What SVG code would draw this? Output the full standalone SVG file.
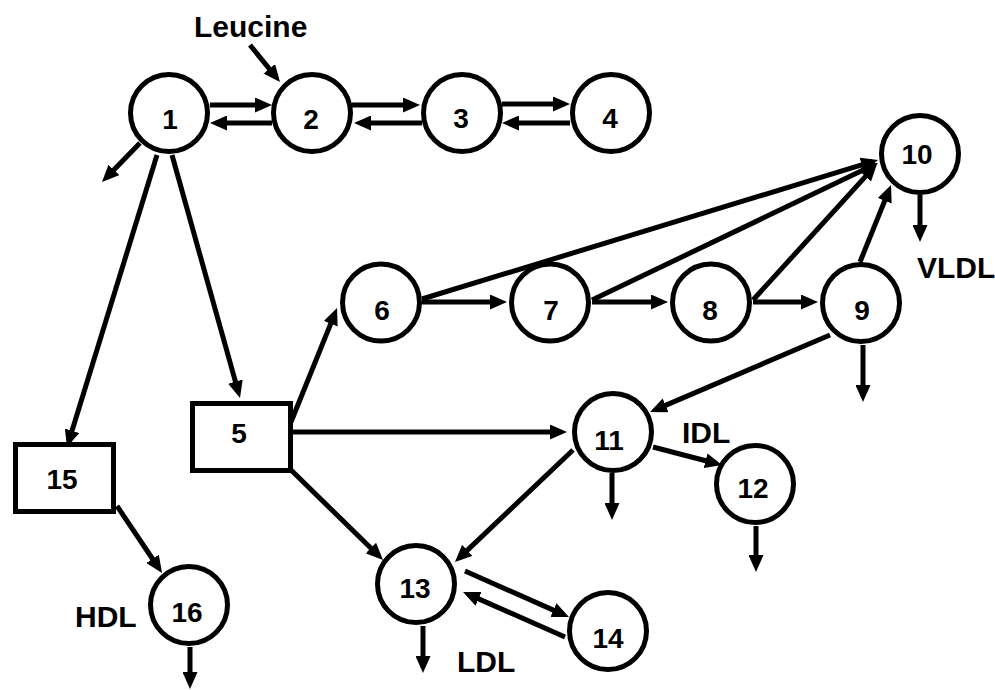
<svg xmlns="http://www.w3.org/2000/svg" width="995" height="690" viewBox="0 0 995 690">
  <style>
    .node circle, .node rect { fill: #ffffff; stroke: #000000; stroke-width: 5; }
    .num { font-family: "Liberation Sans", Arial, sans-serif; font-weight: bold; font-size: 28px; text-anchor: middle; fill: #000000; }
    .lbl { font-family: "Liberation Sans", Arial, sans-serif; font-weight: bold; font-size: 30px; fill: #000000; }
    #connectors line { stroke: #000000; stroke-width: 5; fill: none; }
    #connectors line.arr { marker-end: url(#head); }
  </style>
  <defs>
    <marker id="head" markerUnits="userSpaceOnUse" viewBox="0 0 17 15" markerWidth="17" markerHeight="15" refX="11" refY="7.5" orient="auto">
      <path d="M0,0 L17,7.5 L0,15 Z" fill="#000000"/>
    </marker>
  </defs>
  <rect width="995" height="690" fill="#ffffff"/>

  <!-- connectors (lines end 6px short of the arrow tip) -->
  <g id="connectors">
    <!-- Leucine input -->
    <line class="arr" x1="250" y1="45" x2="276.2" y2="77.3"/>
    <!-- top chain 1-2-3-4 -->
    <line class="arr" x1="210" y1="105" x2="266" y2="105"/>
    <line class="arr" x1="272" y1="123" x2="216" y2="123"/>
    <line class="arr" x1="352" y1="105" x2="414" y2="105"/>
    <line class="arr" x1="422" y1="123" x2="360" y2="123"/>
    <line class="arr" x1="502" y1="104" x2="564" y2="104"/>
    <line class="arr" x1="570" y1="123" x2="508" y2="123"/>
    <!-- out of 1 -->
    <line class="arr" x1="140" y1="143" x2="106.2" y2="177.7"/>
    <line class="arr" x1="157" y1="155" x2="68.8" y2="441.3"/>
    <line class="arr" x1="172" y1="155" x2="238.4" y2="392.2"/>
    <!-- 15 to 16 -->
    <line class="arr" x1="117" y1="506" x2="158.7" y2="568"/>
    <!-- out of 5 -->
    <line class="arr" x1="291" y1="422" x2="334.8" y2="313.6"/>
    <line class="arr" x1="291" y1="432" x2="561" y2="432"/>
    <line class="arr" x1="291" y1="470" x2="378.7" y2="555.8"/>
    <!-- middle chain 6-7-8-9 -->
    <line class="arr" x1="422" y1="302" x2="501" y2="302"/>
    <line class="arr" x1="592" y1="302" x2="662" y2="302"/>
    <line class="arr" x1="753" y1="302" x2="812" y2="302"/>
    <!-- into 10 -->
    <line class="arr" x1="422" y1="299" x2="872.3" y2="161.7"/>
    <line class="arr" x1="592" y1="300" x2="872.6" y2="165.6"/>
    <line class="arr" x1="753" y1="300" x2="872.9" y2="168.4"/>
    <line class="arr" x1="860" y1="262" x2="888.8" y2="190.6"/>
    <!-- 9 to 11 -->
    <line class="arr" x1="830" y1="335" x2="655.5" y2="409.6"/>
    <!-- out of 11 -->
    <line class="arr" x1="653" y1="447" x2="716.2" y2="463.5"/>
    <line class="arr" x1="573" y1="450" x2="459.3" y2="557.9"/>
    <!-- 13 and 14 exchange -->
    <line class="arr" x1="465" y1="571" x2="563.5" y2="614.6"/>
    <line class="arr" x1="565" y1="637" x2="468.5" y2="594.4"/>
    <!-- outflows -->
    <line class="arr" x1="920" y1="195" x2="920" y2="236"/>
    <line class="arr" x1="863" y1="345" x2="863" y2="396"/>
    <line class="arr" x1="612" y1="473" x2="612" y2="514"/>
    <line class="arr" x1="756" y1="526" x2="756" y2="566"/>
    <line class="arr" x1="423" y1="626" x2="423" y2="667"/>
    <line class="arr" x1="190" y1="647" x2="190" y2="683"/>
  </g>

  <!-- nodes -->
  <g id="n1" class="node"><circle cx="169" cy="113" r="38.5"/><text class="num" x="170" y="129">1</text></g>
  <g id="n2" class="node"><circle cx="312" cy="113" r="38.5"/><text class="num" x="311" y="129">2</text></g>
  <g id="n3" class="node"><circle cx="462" cy="113" r="38.5"/><text class="num" x="461" y="128">3</text></g>
  <g id="n4" class="node"><circle cx="611" cy="113" r="38.5"/><text class="num" x="610" y="128">4</text></g>
  <g id="n5" class="node"><rect x="192.5" y="403.5" width="98" height="67"/><text class="num" x="239" y="443">5</text></g>
  <g id="n6" class="node"><circle cx="381" cy="302.5" r="38.5"/><text class="num" x="382" y="320">6</text></g>
  <g id="n7" class="node"><circle cx="550" cy="302.5" r="38.5"/><text class="num" x="551" y="320">7</text></g>
  <g id="n8" class="node"><circle cx="711" cy="302.5" r="38.5"/><text class="num" x="710" y="320">8</text></g>
  <g id="n9" class="node"><circle cx="861" cy="303" r="38.5"/><text class="num" x="862" y="320">9</text></g>
  <g id="n10" class="node"><circle cx="920" cy="154" r="38.5"/><text class="num" x="917" y="164">10</text></g>
  <g id="n11" class="node"><circle cx="613" cy="432" r="38.5"/><text class="num" x="609" y="450">11</text></g>
  <g id="n12" class="node"><circle cx="755" cy="484" r="38.5"/><text class="num" x="753" y="498">12</text></g>
  <g id="n13" class="node"><circle cx="416" cy="584" r="38.5"/><text class="num" x="415" y="598">13</text></g>
  <g id="n14" class="node"><circle cx="608" cy="631" r="38.5"/><text class="num" x="608" y="648">14</text></g>
  <g id="n15" class="node"><rect x="15.5" y="444.5" width="98" height="67"/><text class="num" x="62" y="489">15</text></g>
  <g id="n16" class="node"><circle cx="189" cy="605" r="38.5"/><text class="num" x="187" y="622">16</text></g>

  <!-- labels -->
  <g id="labels">
    <text class="lbl" x="194" y="37">Leucine</text>
    <text class="lbl" x="917" y="278">VLDL</text>
    <text class="lbl" x="682" y="443">IDL</text>
    <text class="lbl" x="75" y="627">HDL</text>
    <text class="lbl" x="457" y="672">LDL</text>
  </g>
</svg>
